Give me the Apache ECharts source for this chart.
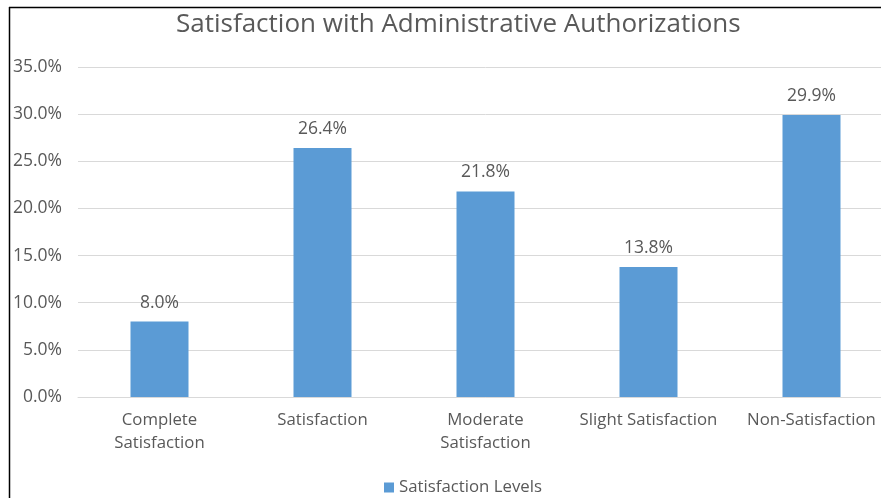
<!DOCTYPE html>
<html><head><meta charset="utf-8">
<script src="https://cdn.jsdelivr.net/npm/echarts@6/dist/echarts.min.js"></script>
<style>html,body{margin:0;padding:0;background:#fff;overflow:hidden;width:881px;height:498px}#c{width:900px;height:498px}</style>
</head><body><div id="c"></div>
<script>
const categories = ['Complete\nSatisfaction', 'Satisfaction', 'Moderate\nSatisfaction', 'Slight Satisfaction', 'Non-Satisfaction'];
const values = [8.0, 26.4, 21.8, 13.8, 29.9];
const seriesName = 'Satisfaction Levels';
const titleText = 'Satisfaction with Administrative Authorizations';
const FONT = '"Open Sans", "Liberation Sans", sans-serif';
const chart = echarts.init(document.getElementById('c'));
chart.setOption({
  animation: false,
  title: { text: titleText, left: 176, top: 12, padding: 0, textStyle: { fontFamily: FONT, fontSize: 26, fontWeight: 'normal', color: '#595959' } },
  graphic: [
    { type: 'line', shape: { x1: 9.5, y1: 7, x2: 9.5, y2: 498 }, style: { stroke: '#000', lineWidth: 1.5 } },
    { type: 'line', shape: { x1: 9, y1: 7.5, x2: 900, y2: 7.5 }, style: { stroke: '#000', lineWidth: 1.5 } }
  ],
  legend: { left: 379, top: 474, itemWidth: 10, itemHeight: 10, icon: 'rect', textStyle: { fontFamily: FONT, fontSize: 16.8, color: '#595959' }, data: [seriesName] },
  grid: { left: 78, top: 67, width: 815, height: 330, containLabel: false },
  xAxis: { type: 'category', data: categories, axisLine: { lineStyle: { color: '#d9d9d9' } }, axisTick: { show: false },
    axisLabel: { fontFamily: FONT, fontSize: 16.8, color: '#595959', margin: 12, lineHeight: 23, interval: 0 } },
  yAxis: { type: 'value', min: 0, max: 35, interval: 5, axisLine: { show: false }, axisTick: { show: false },
    splitLine: { lineStyle: { color: '#d9d9d9' } },
    axisLabel: { fontFamily: FONT, fontSize: 17.5, color: '#595959', margin: 16, formatter: v => v.toFixed(1) + '%' } },
  series: [{ name: seriesName, type: 'bar', data: values, barWidth: 58, itemStyle: { color: '#5B9BD5' },
    label: { show: true, position: 'top', distance: 10, fontFamily: FONT, fontSize: 17.5, color: '#595959', formatter: p => p.value.toFixed(1) + '%' } }]
});
</script></body></html>
